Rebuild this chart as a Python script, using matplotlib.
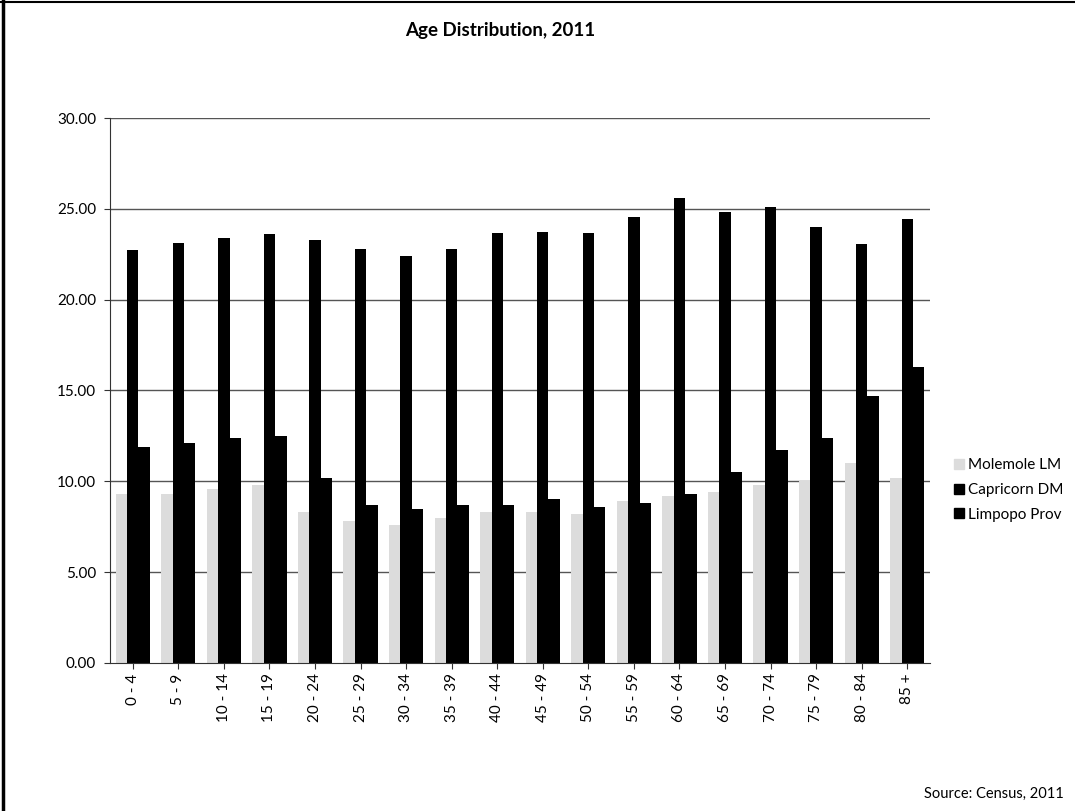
import matplotlib.pyplot as plt
import numpy as np
from matplotlib.lines import Line2D

plt.rcParams['font.family'] = ['Lato', 'DejaVu Sans']

age_groups = ['0 - 4', '5 - 9', '10 - 14', '15 - 19', '20 - 24', '25 - 29',
              '30 - 34', '35 - 39', '40 - 44', '45 - 49', '50 - 54', '55 - 59',
              '60 - 64', '65 - 69', '70 - 74', '75 - 79', '80 - 84', '85 +']
molemole = [9.3, 9.3, 9.6, 9.8, 8.3, 7.8, 7.6, 8.0, 8.3, 8.3, 8.2, 8.9,
            9.2, 9.4, 9.8, 10.0, 11.0, 10.2]
capricorn = [22.75, 23.1, 23.4, 23.6, 23.3, 22.8, 22.4, 22.8, 23.65, 23.7,
             23.65, 24.55, 25.6, 24.8, 25.1, 24.0, 23.05, 24.45]
limpopo = [11.9, 12.1, 12.4, 12.5, 10.2, 8.7, 8.5, 8.7, 8.7, 9.0, 8.6, 8.8,
           9.3, 10.5, 11.7, 12.4, 14.7, 16.3]
series_names = ['Molemole LM', 'Capricorn DM', 'Limpopo Prov']
y_ticks = [0, 5, 10, 15, 20, 25, 30]

fig = plt.figure(figsize=(10.75, 8.11), dpi=100)
ax = fig.add_axes([0.1023, 0.1825, 0.7628, 0.672])

x = np.arange(len(age_groups))
w = 0.25
grey = '#dcdcdc'
ax.bar(x - w, molemole, w, color=grey, zorder=2)
ax.bar(x, capricorn, w, color='black', zorder=2)
ax.bar(x + w, limpopo, w, color='black', zorder=2)

ax.set_xlim(-0.5, len(age_groups) - 0.5)
ax.set_ylim(0, 30)
ax.set_yticks(y_ticks)
ax.set_yticklabels(['%.2f' % v for v in y_ticks], fontsize=11)
ax.set_xticks(x)
ax.set_xticklabels(age_groups, rotation=90, fontsize=11)

for v in y_ticks[1:]:
    ax.axhline(v, color='#555555', lw=1.0, zorder=1)

for s in ['top', 'right']:
    ax.spines[s].set_visible(False)
ax.spines['left'].set_color('#333333')
ax.spines['bottom'].set_color('#333333')
ax.tick_params(axis='y', length=4, color='#333333', pad=6)
ax.tick_params(axis='x', length=4, color='#333333')

fig.text(0.465, 0.962, 'Age Distribution, 2011', ha='center', va='center',
         fontsize=13.5, fontweight='bold')
fig.text(0.99, 0.013, 'Source: Census, 2011', ha='right', va='bottom',
         fontsize=10.5)

handles = [Line2D([], [], marker='s', ls='', color=c, markersize=7)
           for c in [grey, 'black', 'black']]
fig.legend(handles, series_names, loc='center left',
           bbox_to_anchor=(0.872, 1 - 490 / 811), frameon=False, fontsize=11,
           handletextpad=0.1, labelspacing=0.7, handlelength=1.0)

# scan frame on left and top
fig.add_artist(Line2D([0.003, 0.003], [0, 1], color='black', lw=2.5))
fig.add_artist(Line2D([0, 1], [0.997, 0.997], color='black', lw=1.5))

plt.savefig('out.png', dpi=100)
